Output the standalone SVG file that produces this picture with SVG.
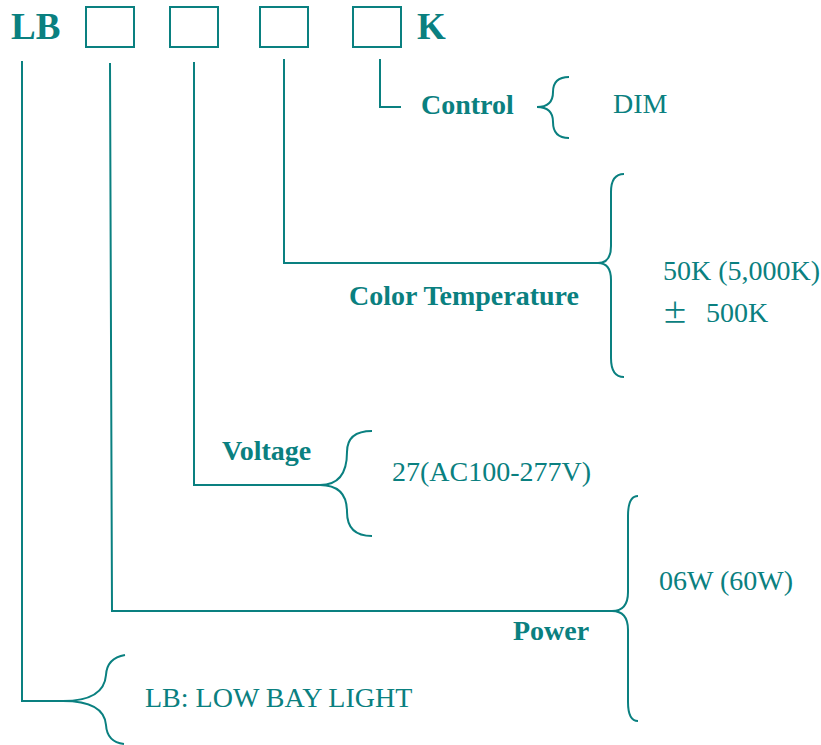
<svg xmlns="http://www.w3.org/2000/svg" width="821" height="745" viewBox="0 0 821 745">
<style>
.ln{fill:none;stroke:#0a8080;stroke-width:2}
.b{font-family:"Liberation Serif",serif;font-weight:bold;fill:#0a8080}
.t{font-family:"Liberation Serif",serif;fill:#0a8080;font-size:28px}
</style>
<rect width="821" height="745" fill="#fff"/>
<g id="code">
<text class="b" x="11" y="39" font-size="37">LB</text>
<rect class="ln" x="86" y="7" width="48" height="40"/>
<rect class="ln" x="170" y="7" width="48" height="40"/>
<rect class="ln" x="260" y="7" width="48" height="40"/>
<rect class="ln" x="353" y="7" width="48" height="40"/>
<text class="b" x="417" y="39" font-size="37">K</text>
</g>
<g id="connectors">
<polyline class="ln" points="22,61 22,701 63,701"/>
<polyline class="ln" points="110,63 112,611 612,611"/>
<polyline class="ln" points="194,62 194,485 325,485"/>
<polyline class="ln" points="284,59 284,263 598,263"/>
<polyline class="ln" points="380,59 380,107 401,107"/>
</g>
<g id="control">
<text class="b" x="421" y="114" font-size="28">Control</text>
<path class="ln" d="M569,77 Q553,77 553,92 Q553,107 537,107 Q553,107 553,122 Q553,138 569,138"/>
<text class="t" x="613" y="113">DIM</text>
</g>
<g id="colortemp">
<text class="b" x="349" y="305" font-size="28">Color Temperature</text>
<path class="ln" d="M624,174 Q611,174 611,192 L611,246 Q611,263 598,263 Q611,263 611,280 L611,358 Q611,377 624,377"/>
<text class="t" x="663" y="280">50K (5,000K)</text>
<text x="662" y="323" font-family="'Noto Sans CJK SC',sans-serif" font-size="26" fill="#0a8080">±</text>
<text class="t" x="706" y="322">500K</text>
</g>
<g id="voltage">
<text class="b" x="222" y="460" font-size="28">Voltage</text>
<path class="ln" d="M372,431 Q347,431 347,452 Q347,485 320,485 Q347,485 347,512 Q347,536 372,536"/>
<text class="t" x="392" y="481">27(AC100-277V)</text>
</g>
<g id="power">
<text class="b" x="513" y="640" font-size="28">Power</text>
<path class="ln" d="M638,496 Q628,496 628,516 L628,592 Q628,611 612,611 Q628,611 628,630 L628,702 Q628,721 638,721"/>
<text class="t" x="659" y="590">06W (60W)</text>
</g>
<g id="lb">
<path class="ln" d="M125,655 Q107,658 106,675 Q104,701 63,701 Q104,701 106,725 Q107,742 124,744"/>
<text class="t" x="145" y="707">LB: LOW BAY LIGHT</text>
</g>
</svg>
